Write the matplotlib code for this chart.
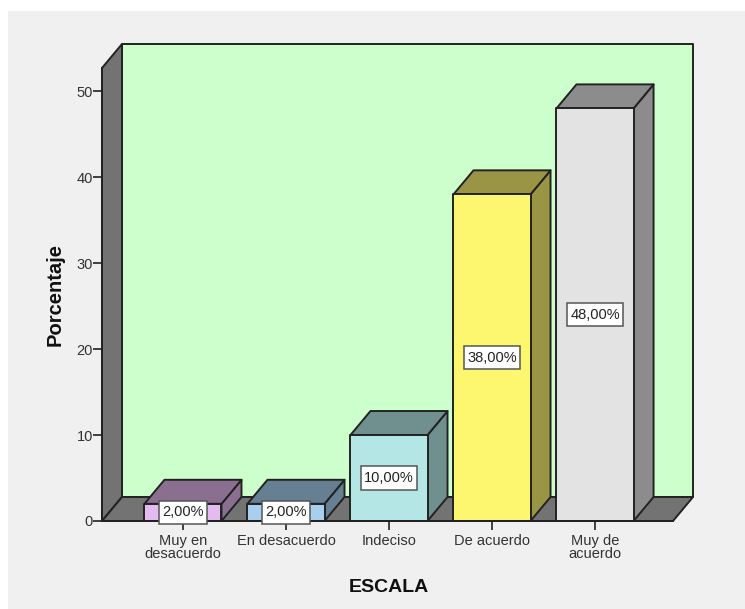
import matplotlib
matplotlib.use("Agg")
import matplotlib.pyplot as plt
from matplotlib.patches import Polygon, Rectangle
from matplotlib.path import Path

plt.rcParams['font.family'] = ['Liberation Sans', 'DejaVu Sans']

categories = ["Muy en\ndesacuerdo", "En desacuerdo", "Indeciso", "De acuerdo", "Muy de\nacuerdo"]
percentages = [2, 2, 10, 38, 48]
value_labels = ["2,00%", "2,00%", "10,00%", "38,00%", "48,00%"]
front_colors = ["#E3BBF0", "#A9CFEF", "#B5E6E6", "#FDF76F", "#E3E3E3"]
top_colors = ["#8A6F91", "#667F93", "#70908F", "#999545", "#8C8C8C"]
side_colors = ["#8A6F91", "#667F93", "#70908F", "#999545", "#8C8C8C"]
y_ticks = [0, 10, 20, 30, 40, 50]

W, H = 745, 609
EDGE = "#222222"
LW = 1.4
BAR_WIDTH = 0.748
DX = 20 / 103       # depth offset along the category axis
DY = 24 / 8.59      # depth offset along the value axis
XMIN, XMAX = -0.786, 4.757
YMAX = 52.7

fig = plt.figure(figsize=(W / 100, H / 100), dpi=100, facecolor="white")
fig.add_artist(Rectangle((8 / W, 0), 1 - 8 / W, 1 - 11 / H, transform=fig.transFigure,
                         facecolor="#F0F0F0", edgecolor="none", zorder=-5))

ax = fig.add_axes([102 / W, 1 - 521 / H, 571 / W, 453 / H])
ax.patch.set_visible(False)
ax.set_xlim(XMIN, XMAX)
ax.set_ylim(0, YMAX)


def face(points, color, z):
    ax.add_patch(Polygon(points, closed=True, facecolor=color, edgecolor=EDGE,
                         linewidth=LW, joinstyle="round", clip_on=False, zorder=z))


def label_box(x0, y0, width, height, mutation_size):
    # Square label frame, padded more vertically than horizontally
    px, py = 0.22 * mutation_size, 0.32 * mutation_size
    x1, y1 = x0 + width + px, y0 + height + py
    x0, y0 = x0 - px, y0 - py
    return Path([(x0, y0), (x1, y0), (x1, y1), (x0, y1), (x0, y0)], closed=True)


# Box walls: back, left side, floor
face([(XMIN + DX, DY), (XMAX + DX, DY), (XMAX + DX, YMAX + DY), (XMIN + DX, YMAX + DY)], "#CCFFCC", 1)
face([(XMIN, 0), (XMIN + DX, DY), (XMIN + DX, YMAX + DY), (XMIN, YMAX)], "#737373", 2)
face([(XMIN, 0), (XMAX, 0), (XMAX + DX, DY), (XMIN + DX, DY)], "#737373", 2)

# 3D bars with a value label centred on each front face
for i, value in enumerate(percentages):
    x0, x1 = i - BAR_WIDTH / 2, i + BAR_WIDTH / 2
    face([(x1, 0), (x1 + DX, DY), (x1 + DX, value + DY), (x1, value)], side_colors[i], 3)
    face([(x0, value), (x1, value), (x1 + DX, value + DY), (x0 + DX, value + DY)], top_colors[i], 3)
    face([(x0, 0), (x1, 0), (x1, value), (x0, value)], front_colors[i], 4)
    ax.text(i, value / 2, value_labels[i], ha="center", va="center", fontsize=10.5,
            color="#222222", zorder=6,
            bbox=dict(boxstyle=label_box, facecolor="white", edgecolor="#555555", linewidth=1.1))

for side in ("top", "right"):
    ax.spines[side].set_visible(False)
for side in ("left", "bottom"):
    ax.spines[side].set_linewidth(LW)
    ax.spines[side].set_color(EDGE)
    ax.spines[side].set_zorder(5)

ax.set_xticks(range(len(categories)))
ax.set_xticklabels(categories, fontsize=10.5, color="#333333", linespacing=0.88)
ax.set_yticks(y_ticks)
ax.tick_params(axis="y", length=6.5, width=1.2, color=EDGE, labelsize=10.5, labelcolor="#333333", pad=0)
ax.tick_params(axis="x", length=6.5, width=1.2, color=EDGE, pad=3)

fig.text(55 / W, 1 - 295 / H, "Porcentaje", rotation=90, ha="center", va="center",
         fontsize=14.5, fontweight="bold", color="#111111")
fig.text(389 / W, 1 - 588 / H, "ESCALA", ha="center", va="center",
         fontsize=14, fontweight="bold", color="#111111")

fig.savefig("out.png", dpi=100, facecolor=fig.get_facecolor())
